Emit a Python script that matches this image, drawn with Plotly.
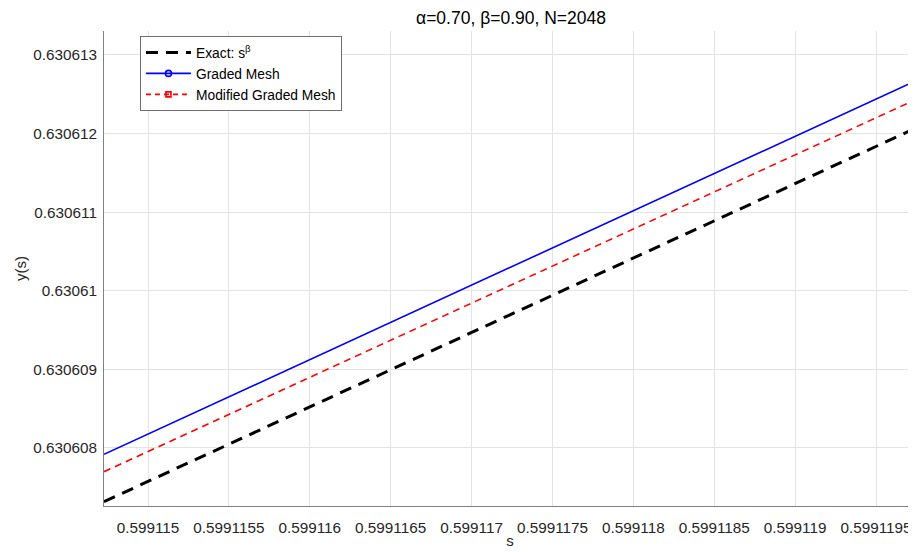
import plotly.graph_objects as go

# ---- data (values at the left and right edges of the view) ----
s_vals = [0.599114728, 0.599119747]
exact_vals = [0.630607317, 0.630612071]
graded_vals = [0.630607920, 0.630612673]
modified_vals = [0.630607699, 0.630612434]

x_tick_labels = ["0.599115", "0.5991155", "0.599116", "0.5991165", "0.599117",
                 "0.5991175", "0.599118", "0.5991185", "0.599119", "0.5991195"]
y_tick_labels = ["0.630608", "0.630609", "0.63061", "0.630611", "0.630612", "0.630613"]

x_range = [0.599114728, 0.599119747]
y_range = [0.630607262, 0.630613305]

FONT = "Liberation Sans, Arial, Helvetica, sans-serif"
TXT = "#262626"

fig = go.Figure()

# data lines
fig.add_trace(go.Scatter(x=s_vals, y=exact_vals, mode="lines", showlegend=False,
                         line=dict(color="black", width=3, dash="12px,8px")))
fig.add_trace(go.Scatter(x=s_vals, y=graded_vals, mode="lines", showlegend=False,
                         line=dict(color="#0000ff", width=1.6)))
fig.add_trace(go.Scatter(x=s_vals, y=modified_vals, mode="lines", showlegend=False,
                         line=dict(color="#ff0000", width=1.6, dash="7px,5px")))

# legend entries (the markers of the series lie outside this zoomed view)
fig.add_trace(go.Scatter(x=[None], y=[None], mode="lines", name="Exact: s<sup>β</sup>",
                         line=dict(color="black", width=3, dash="12px,8px")))
fig.add_trace(go.Scatter(x=[None], y=[None], mode="lines+markers", name="Graded Mesh",
                         line=dict(color="#0000ff", width=1.6),
                         marker=dict(symbol="circle-open", size=6, color="#0000ff",
                                     line=dict(width=1.6))))
fig.add_trace(go.Scatter(x=[None], y=[None], mode="lines+markers", name="Modified Graded Mesh",
                         line=dict(color="#ff0000", width=1.6, dash="5px,4px"),
                         marker=dict(symbol="square-open", size=5, color="#ff0000",
                                     line=dict(width=1.6))))

axis_common = dict(
    showgrid=True, gridcolor="#e3e3e3", gridwidth=1,
    showline=True, linecolor="#808080", linewidth=1,
    ticks="outside", tickcolor="rgba(0,0,0,0)",
    zeroline=False, mirror=False, automargin=False,
    tickfont=dict(family=FONT, size=15.3, color=TXT),
)

fig.update_xaxes(range=x_range, tickvals=[float(t) for t in x_tick_labels],
                 ticktext=x_tick_labels, ticklen=8,
                 title=dict(text="s", font=dict(family=FONT, size=15, color=TXT), standoff=0),
                 **axis_common)
fig.update_yaxes(range=y_range, tickvals=[float(t) for t in y_tick_labels],
                 ticktext=y_tick_labels, ticklen=3,
                 title=dict(text="y(s)", font=dict(family=FONT, size=15, color=TXT), standoff=2),
                 **axis_common)

# the page body has an 8px margin, so the figure is sized to end at the window edge
fig.update_layout(
    width=908, height=544,
    margin=dict(l=96, r=0, t=23, b=46, autoexpand=False),
    paper_bgcolor="white", plot_bgcolor="white",
    title=dict(text="α=0.70, β=0.90, N=2048", x=0.554, xanchor="center",
               y=1 - 4 / 544, yanchor="top", yref="container",
               font=dict(family=FONT, size=17.5, color="black")),
    legend=dict(x=0.0443, y=0.9895, xanchor="left", yanchor="top",
                bgcolor="white", bordercolor="#6e6e6e", borderwidth=1,
                font=dict(family=FONT, size=13.8, color="black"),
                tracegroupgap=0, itemwidth=45),
    showlegend=True,
)

fig.write_html("out.html")
